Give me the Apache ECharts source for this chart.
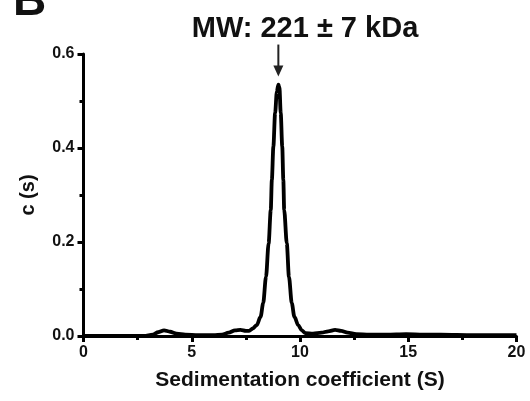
<!DOCTYPE html>
<html>
<head>
<meta charset="utf-8">
<script src="https://cdn.jsdelivr.net/npm/echarts@6/dist/echarts.min.js"></script>
<style>
html, body { margin: 0; padding: 0; background: #fff; }
#main { width: 530px; height: 401px; }
</style>
</head>
<body>
<div id="main"></div>
<script>
// 沉降系数 (S)
var sx = [0, 1.0, 2.0, 2.8, 3.2, 3.45, 3.72, 4.0, 4.3, 4.7, 5.3, 6.0, 6.4, 6.7, 7.0, 7.25, 7.5, 7.65,
    7.82, 8.0, 8.18, 8.3, 8.43, 8.55, 8.65, 8.7, 8.77, 8.85, 8.93, 9.0, 9.05, 9.11, 9.18, 9.23, 9.27,
    9.39, 9.49, 9.62, 9.74, 9.92, 10.08, 10.25, 10.6, 11.0, 11.3, 11.62, 11.9, 12.2, 12.6, 13.2, 14.0,
    14.9, 15.7, 16.5, 18.0, 20.0];
// c(s)
var cs = [0, 0, 0, 0, 0.003, 0.008, 0.012, 0.009, 0.005, 0.003, 0.002, 0.002, 0.003, 0.007, 0.012, 0.013, 0.011, 0.011,
    0.016, 0.023, 0.041, 0.070, 0.126, 0.197, 0.268, 0.332, 0.403, 0.474, 0.520, 0.535, 0.530, 0.474, 0.403, 0.332, 0.268,
    0.197, 0.126, 0.070, 0.041, 0.023, 0.012, 0.006, 0.005, 0.007, 0.010, 0.013, 0.011, 0.007, 0.004, 0.003, 0.003,
    0.004, 0.003, 0.003, 0.002, 0.002];
var xTicks = [0, 5, 10, 15, 20];
var yTicks = [0, 0.2, 0.4, 0.6];
var peakS = 9.0;
var peakC = 0.535;
var titleText = 'MW: 221 \u00b1 7 kDa';

var FONT = '"Liberation Sans", Arial, Helvetica, sans-serif';

var points = [];
for (var i = 0; i < sx.length; i++) {
    points.push([sx[i], cs[i]]);
}

var chart = echarts.init(document.getElementById('main'));

var axisCommon = {
    axisLine: { show: true, lineStyle: { color: '#000', width: 3 } },
    axisTick: { show: true, length: 6, lineStyle: { color: '#000', width: 3 } },
    minorTick: { show: true, splitNumber: 2, length: 4, lineStyle: { color: '#000', width: 3 } },
    splitLine: { show: false },
    minorSplitLine: { show: false }
};

var option = {
    animation: false,
    backgroundColor: '#fff',
    title: {
        text: titleText,
        left: 300,
        top: 9,
        textAlign: 'center',
        textStyle: { fontFamily: FONT, fontWeight: 'bold', fontSize: 29, color: '#111' }
    },
    grid: { left: 83.5, right: 13.5, top: 54, bottom: 65 },
    xAxis: echarts.util.merge({
        type: 'value',
        min: xTicks[0],
        max: xTicks[xTicks.length - 1],
        interval: 5,
        name: 'Sedimentation coefficient (S)',
        nameLocation: 'middle',
        nameGap: 34,
        nameTextStyle: { fontFamily: FONT, fontWeight: 'bold', fontSize: 21, color: '#111' },
        axisLabel: { margin: 9, fontFamily: FONT, fontWeight: 'bold', fontSize: 16, color: '#111' }
    }, axisCommon, true),
    yAxis: echarts.util.merge({
        type: 'value',
        min: yTicks[0],
        max: yTicks[yTicks.length - 1],
        interval: 0.2,
        name: 'c (s)',
        nameLocation: 'middle',
        nameGap: 45,
        nameTextStyle: { fontFamily: FONT, fontWeight: 'bold', fontSize: 20, color: '#111' },
        axisLabel: {
            margin: 9, fontFamily: FONT, fontWeight: 'bold', fontSize: 16, color: '#111',
            formatter: function (v) { return v.toFixed(1); }
        }
    }, axisCommon, true),
    series: [{
        type: 'line',
        data: points,
        showSymbol: false,
        smooth: 0.3,
        smoothMonotone: 'x',
        clip: false,
        lineStyle: { color: '#000', width: 3.8 },
        z: 3
    }]
};
chart.setOption(option);

// 峰顶箭头和角标
var tip = chart.convertToPixel({ gridIndex: 0 }, [peakS, peakC]);
var ax = tip[0];
var tipY = tip[1] - 8;
chart.setOption({
    graphic: [
        {
            type: 'line',
            shape: { x1: ax, y1: tipY - 32, x2: ax, y2: tipY - 8 },
            style: { stroke: '#222', lineWidth: 2 }
        },
        {
            type: 'polygon',
            shape: { points: [[ax - 5, tipY - 11], [ax + 5, tipY - 11], [ax, tipY]] },
            style: { fill: '#222' }
        },
        {
            type: 'text',
            left: 13,
            top: -21,
            style: { text: 'B', font: 'bold 46px ' + FONT, fill: '#111' }
        }
    ]
});
</script>
</body>
</html>
